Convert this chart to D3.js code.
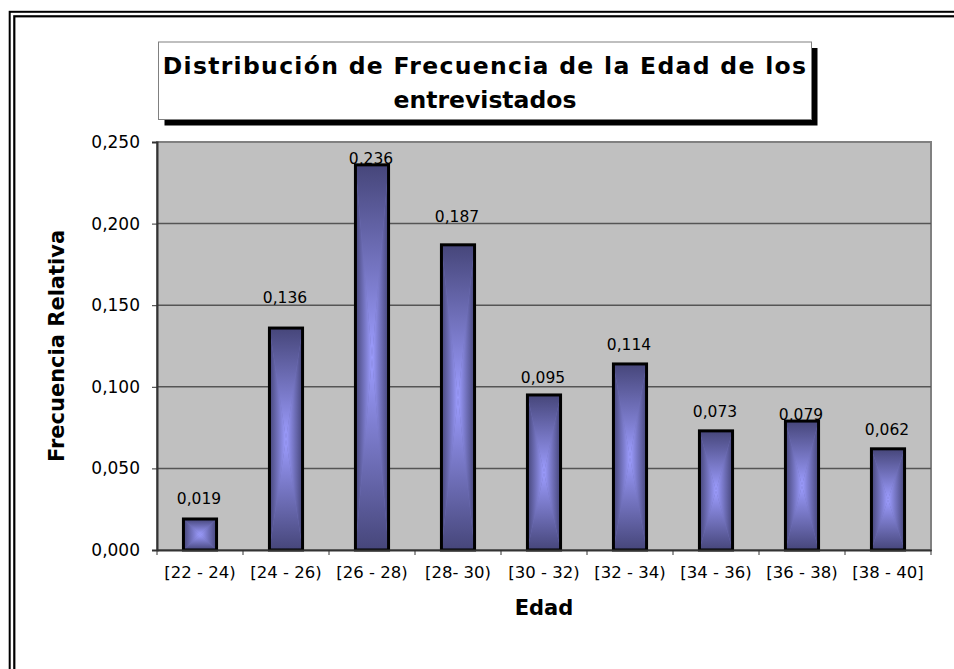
<!DOCTYPE html>
<html>
<head>
<meta charset="utf-8">
<script src="https://cdn.jsdelivr.net/npm/d3@7/dist/d3.min.js"></script>
<style>
  body { margin: 0; background: #fff; }
  text { font-family: "DejaVu Sans", Verdana, sans-serif; }
</style>
</head>
<body>
<div id="grafico"></div>
<script>
// datos del grafico
var categorias = ["[22 - 24)", "[24 - 26)", "[26 - 28)", "[28- 30)", "[30 - 32)", "[32 - 34)", "[34 - 36)", "[36 - 38)", "[38 - 40]"];
var frecuencias = [0.019, 0.136, 0.236, 0.187, 0.095, 0.114, 0.073, 0.079, 0.062];
var marcasY = [0, 0.05, 0.10, 0.15, 0.20, 0.25];
var titulo = ["Distribución de Frecuencia de la Edad de los", "entrevistados"];
var tituloX = "Edad";
var tituloY = "Frecuencia Relativa";

// dimensiones
var width = 954,
    height = 669;
var plot = {left: 157, right: 931, top: 142, bottom: 550};
// distancia entre la etiqueta y la barra (las etiquetas estan movidas a mano en el original)
var separacion = [15, 25, 1, 23, 12, 14, 14, 1, 14];

var svg = d3.select("#grafico")
  .append("svg")
    .attr("width", width)
    .attr("height", height);

// degradados "desde el centro" (se arma con 4 triangulos)
var oscuro = "#46467a",
    claro = "#9d9dff";
var defs = svg.append("defs");
var grads = [
  {id: "gIzq", x1: 0, y1: 0, x2: 1, y2: 0, a: oscuro, b: claro},
  {id: "gDer", x1: 0, y1: 0, x2: 1, y2: 0, a: claro, b: oscuro},
  {id: "gArr", x1: 0, y1: 0, x2: 0, y2: 1, a: oscuro, b: claro},
  {id: "gAba", x1: 0, y1: 0, x2: 0, y2: 1, a: claro, b: oscuro}
];
grads.forEach(function (g) {
  var lg = defs.append("linearGradient").attr("id", g.id)
    .attr("x1", g.x1).attr("y1", g.y1).attr("x2", g.x2).attr("y2", g.y2);
  lg.append("stop").attr("offset", 0).attr("stop-color", g.a);
  lg.append("stop").attr("offset", 1).attr("stop-color", g.b);
});

// marco doble de la hoja
svg.append("rect").attr("x", 9.7).attr("y", 11.8).attr("width", 980).attr("height", 700)
  .attr("fill", "none").attr("stroke", "#000").attr("stroke-width", 2);
svg.append("rect").attr("x", 14.3).attr("y", 16.3).attr("width", 980).attr("height", 700)
  .attr("fill", "none").attr("stroke", "#000").attr("stroke-width", 2.2);

// escalas
var x = d3.scaleBand()
  .domain(categorias)
  .range([plot.left, plot.right])
  .paddingInner(0.615)
  .paddingOuter(0.3075);

var y = d3.scaleLinear()
  .domain([0, 0.25])
  .range([plot.bottom, plot.top]);

var formato = function (d) { return d3.format(".3f")(d).replace(".", ","); };

// area del grafico
svg.append("rect")
  .attr("x", plot.left).attr("y", plot.top)
  .attr("width", plot.right - plot.left).attr("height", plot.bottom - plot.top)
  .attr("fill", "#c0c0c0")
  .attr("stroke", "#808080")
  .attr("stroke-width", 2);

// lineas de division
svg.selectAll(".grid")
  .data(marcasY.slice(1, -1))
  .enter()
  .append("line")
    .attr("x1", plot.left).attr("x2", plot.right)
    .attr("y1", function (d) { return y(d); })
    .attr("y2", function (d) { return y(d); })
    .attr("stroke", "#555")
    .attr("stroke-width", 1.5);

// barras
var barras = svg.selectAll(".barra")
  .data(frecuencias)
  .enter()
  .append("g")
    .attr("class", "barra");

barras.each(function (d, i) {
  var g = d3.select(this);
  var x0 = x(categorias[i]),
      x1 = x0 + x.bandwidth(),
      y0 = y(d),
      y1 = y(0),
      cx = (x0 + x1) / 2,
      cy = (y0 + y1) / 2;
  g.append("rect").attr("x", x0).attr("y", y0).attr("width", x1 - x0).attr("height", y1 - y0)
    .attr("fill", "#7070b8");
  var tri = [
    {p: [[x0, y0], [cx, cy], [x0, y1]], f: "gIzq"},
    {p: [[x1, y0], [cx, cy], [x1, y1]], f: "gDer"},
    {p: [[x0, y0], [cx, cy], [x1, y0]], f: "gArr"},
    {p: [[x0, y1], [cx, cy], [x1, y1]], f: "gAba"}
  ];
  tri.forEach(function (t) {
    g.append("path")
      .attr("d", "M" + t.p.join("L") + "Z")
      .attr("fill", "url(#" + t.f + ")");
  });
  g.append("rect").attr("x", x0).attr("y", y0).attr("width", x1 - x0).attr("height", y1 - y0)
    .attr("fill", "none")
    .attr("stroke", "#000")
    .attr("stroke-width", 3);
});

// etiquetas de valor
svg.selectAll(".valor")
  .data(frecuencias)
  .enter()
  .append("text")
    .attr("x", function (d, i) { return x(categorias[i]) + x.bandwidth() / 2 - 1; })
    .attr("y", function (d, i) { return y(d) - separacion[i]; })
    .attr("text-anchor", "middle")
    .style("font-size", "15.5px")
    .attr("fill", "#000")
    .text(function (d) { return formato(d); });

// eje Y
var ejeY = svg.append("g")
  .attr("transform", "translate(" + plot.left + ",0)")
  .call(d3.axisLeft(y).tickValues(marcasY).tickFormat(formato).tickSize(5).tickPadding(12));
ejeY.selectAll("text").style("font-size", "17px").attr("fill", "#000");
ejeY.selectAll("line").attr("stroke", "#333");
ejeY.select(".domain").attr("stroke", "#333").attr("stroke-width", 2);

// eje X (etiquetas centradas, marcas en los limites)
var ejeX = svg.append("g")
  .attr("transform", "translate(0," + plot.bottom + ")")
  .call(d3.axisBottom(x).tickSize(0).tickPadding(16));
ejeX.selectAll("text").style("font-size", "16.5px").attr("fill", "#000");
ejeX.select(".domain").attr("stroke", "#333").attr("stroke-width", 2);

var limites = categorias.map(function (c) { return x(c) + x.bandwidth() / 2 - x.step() / 2; });
limites.push(plot.right);
ejeX.selectAll(".limite")
  .data(limites)
  .enter()
  .append("line")
    .attr("x1", function (d) { return d; })
    .attr("x2", function (d) { return d; })
    .attr("y1", 0).attr("y2", 5)
    .attr("stroke", "#333");

// titulos de los ejes
svg.append("text")
  .attr("x", (plot.left + plot.right) / 2)
  .attr("y", 615)
  .attr("text-anchor", "middle")
  .style("font-size", "21px")
  .style("font-weight", "bold")
  .text(tituloX);

svg.append("text")
  .attr("transform", "translate(64," + (plot.top + plot.bottom) / 2 + ") rotate(-90)")
  .attr("text-anchor", "middle")
  .style("font-size", "21px")
  .style("font-weight", "bold")
  .text(tituloY);

// titulo con sombra
var caja = {x: 158.5, y: 42, w: 653, h: 77.5};
svg.append("rect")
  .attr("x", caja.x + 6).attr("y", caja.y + 6)
  .attr("width", caja.w).attr("height", caja.h)
  .attr("fill", "#000");
svg.append("rect")
  .attr("x", caja.x).attr("y", caja.y)
  .attr("width", caja.w).attr("height", caja.h)
  .attr("fill", "#fff")
  .attr("stroke", "#808080")
  .attr("stroke-width", 1);

svg.selectAll(".titulo")
  .data(titulo)
  .enter()
  .append("text")
    .attr("x", caja.x + caja.w / 2)
    .attr("y", function (d, i) { return 74 + i * 34; })
    .attr("text-anchor", "middle")
    .style("font-size", "23.5px")
    .style("font-weight", "bold")
    .style("letter-spacing", function (d, i) { return i === 0 ? "1.3px" : "0px"; })
    .text(function (d) { return d; });
</script>
</body>
</html>
